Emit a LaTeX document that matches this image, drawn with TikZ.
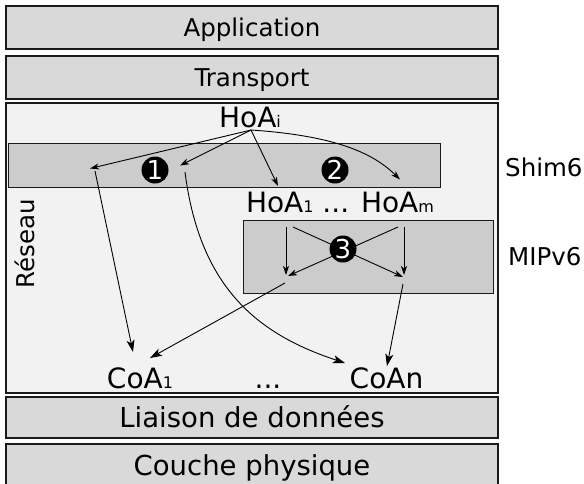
\documentclass[tikz,border=0pt]{standalone}
\usepackage{fontspec}
\setmainfont{DejaVu Sans}
\usetikzlibrary{arrows.meta}

\definecolor{grisclair}{HTML}{F2F2F2}
\definecolor{grismoyen}{HTML}{D9D9D9}
\definecolor{grisfonce}{HTML}{CCCCCC}
\definecolor{bord}{HTML}{1A1A1A}

\newcommand{\fontcouche}{\fontsize{24.5}{26}\selectfont}
\newcommand{\fontgrand}{\fontsize{27.5}{30}\selectfont}
\newcommand{\fontadr}{\fontsize{28}{30}\selectfont}
\newcommand{\fontpuce}{\fontsize{26}{26}\selectfont}
\newcommand{\indice}[1]{{\fontsize{16}{16}\selectfont #1}}

\tikzstyle{couche} = [rectangle, 
minimum width=492pt, 
minimum height=43pt, 
text height=18pt, text depth=0pt,
draw=bord, line width=1.6pt, 
fill=grismoyen, font=\fontcouche]
\tikzstyle{protocole} = [rectangle, anchor=north west,
draw=bord, line width=1.4pt, 
fill=grisfonce]
\tikzstyle{adresse} = [anchor=base, inner sep=0pt, font=\fontadr]
\tikzstyle{etiquette} = [anchor=base west, inner sep=0pt, font=\fontcouche]
\tikzstyle{puce} = [circle, fill=black, text=white, 
minimum size=27pt, inner sep=0pt, font=\fontpuce]
\tikzstyle{fleche} = [line width=0.9pt, -{Stealth[length=9pt, width=6pt, inset=2.5pt]}]
\tikzstyle{grandefleche} = [line width=0.9pt, -{Stealth[length=12pt, width=8pt, inset=3pt]}]

\begin{document}
\begin{tikzpicture}[x=1pt, y=-1pt]
\useasboundingbox (0,0) rectangle (584,483);

% les couches
\node (appli) [couche] at (252,27.5) {Application};
\node (transport) [couche] at (252,77.5) {Transport};
\node (reseau) [rectangle, draw=bord, line width=1.6pt, fill=grisclair,
  minimum width=492pt, minimum height=290pt] at (252,248) {};
\node (liaison) [couche, font=\fontgrand, text height=20pt, minimum height=41pt] at (252,417.5) {Liaison de données};
\node (physique) [couche, font=\fontgrand, text height=20pt] at (252,465.5) {Couche physique};

\node (shim) [protocole, minimum width=432.5pt, minimum height=44pt] at (7.5,142.5) {};
\node (mip) [protocole, minimum width=250pt, minimum height=73pt] at (243,220) {};

\node (lreseau) [rotate=90, font=\fontcouche] at (25,244) {Réseau};
\node (lshim) [etiquette] at (505,176) {Shim6};
\node (lmip) [etiquette] at (508,265) {MIPv6};

% les adresses
\node (hoai) [adresse] at (250,127.5) {HoA\indice{i}};
\node (hoam) [adresse] at (340,212) {HoA\indice{1} ... HoA\indice{m}};
\node (coa1) [adresse] at (140,388) {CoA\indice{1}};
\node (points) [adresse] at (268,388) {...};
\node (coan) [adresse] at (386.5,388) {CoAn};

\coordinate (depart) at (251,130);
\coordinate (s1) at (90,168.5);
\coordinate (s2) at (180,165.5);
\coordinate (s3) at (278,186);
\coordinate (s4) at (400,179.5);
\coordinate (r1) at (95,171);
\coordinate (r2) at (185,172);
\coordinate (h1) at (286,227);
\coordinate (b1) at (286,275);
\coordinate (h2) at (404,227);
\coordinate (b2) at (404,275);
\coordinate (x1h) at (293,227);
\coordinate (x1b) at (403,277);
\coordinate (x2h) at (398,227);
\coordinate (x2b) at (288,276);
\coordinate (o1) at (285,283);
\coordinate (o2) at (403,284);
\coordinate (c1a) at (133,352);
\coordinate (c1b) at (150,358);
\coordinate (cna) at (345,363);
\coordinate (cnb) at (387,366);

% Shim6
\draw [fleche] (depart) -- (s1);
\draw [fleche] (depart) -- (s2);
\draw [fleche] (depart) -- (s3);
\draw [fleche] (depart) .. controls (340,136) and (375,155) .. (s4);
\draw [grandefleche] (r1) -- (c1a);
\draw [grandefleche] (r2) .. controls (200,290) and (260,335) .. (cna);

% MIPv6
\draw [fleche] (h1) -- (b1);
\draw [fleche] (h2) -- (b2);
\draw [fleche] (x1h) -- (x1b);
\draw [fleche] (x2h) -- (x2b);
\draw [grandefleche] (o1) -- (c1b);
\draw [grandefleche] (o2) -- (cnb);

\node (un) [puce] at (155,170) {1};
\node (deux) [puce] at (335,170) {2};
\node (trois) [puce] at (343,249) {3};

\end{tikzpicture}
\end{document}
